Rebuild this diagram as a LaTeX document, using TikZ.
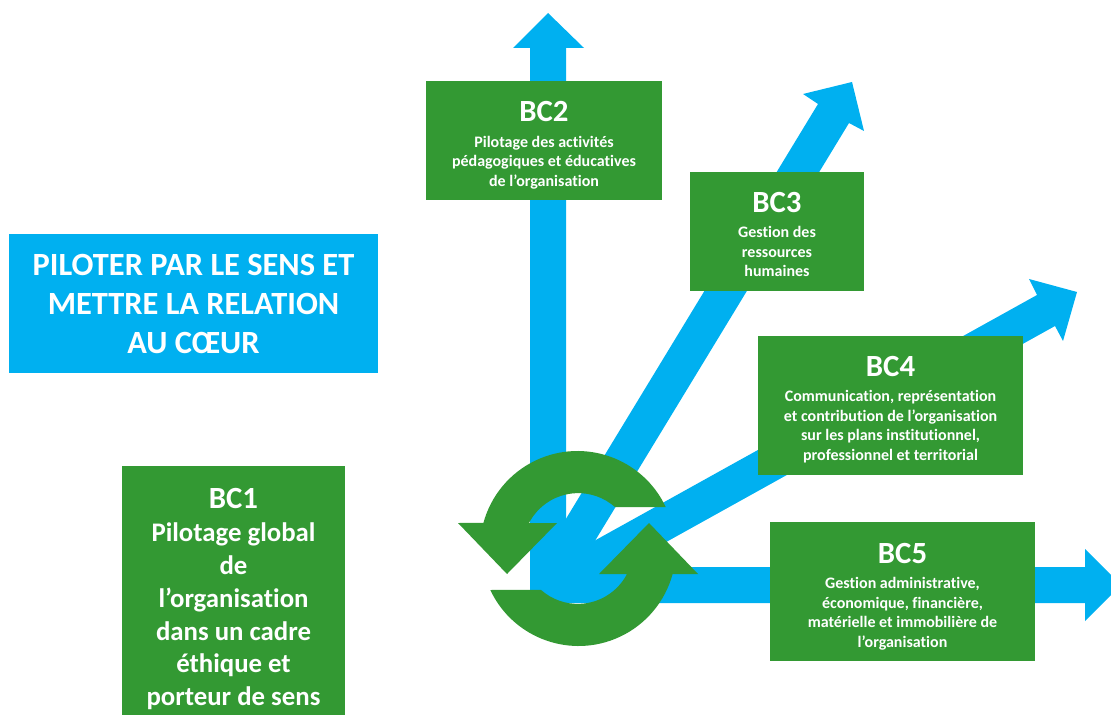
\documentclass[tikz,border=0pt]{standalone}
\usepackage{fontspec}
\setmainfont{Carlito}[Ligatures=NoCommon]
\definecolor{bcblue}{HTML}{00B0F0}
\definecolor{bcgreen}{HTML}{339933}
\tikzset{
  bcbox/.style={fill=bcgreen, text=white, font=\bfseries\fontsize{8}{9.75}\selectfont, align=center, inner sep=0pt},
  bcarrow/.style={fill=bcblue},
  bccycle/.style={fill=bcgreen}
}
\newcommand{\bctitle}[3]{{\fontsize{15.4}{18}\selectfont\rule{0pt}{#1}#3}\\[#2]}
\begin{document}
\begin{tikzpicture}[x=0.5pt, y=-0.5pt]
\useasboundingbox (0,0) rectangle (1111,715);

\fill [bcarrow] (530,603) -- (530,48) -- (513,48) -- (548,13) -- (584,48) -- (566,48) -- (566,603) -- cycle;
\fill [bcarrow] (530,578) -- (818,104) -- (803,94) -- (852,82) -- (864,131) -- (849,123) -- (559,600) -- cycle;
\fill [bcarrow] (540,571) -- (1037,295) -- (1029,279) -- (1077,292) -- (1063,341) -- (1055,326) -- (560,601) -- cycle;
\fill [bcarrow] (530,567) -- (1085,567) -- (1085,549) -- (1111,575) -- (1111,595) -- (1085,621) -- (1085,603) -- (530,603) -- cycle;

\foreach \a in {0,180} {
  \fill [bccycle, rotate around={\a:(578,548.5)}] (665.7,507) arc [start angle=-25.2, end angle=-164.8, radius=97.5]
    -- (458,523) -- (507,574) -- (557,523) -- (529,523)
    arc [start angle=-152.5, end angle=-48.3, radius=55.5] -- cycle;
}

\node [bcbox, minimum width=118pt, minimum height=59.5pt] (bc2) at (544,140.5)
  {\bctitle{15pt}{3pt}{BC2}Pilotage des activités\\pédagogiques et éducatives\\de l’organisation};
\node [bcbox, minimum width=87pt, minimum height=59.5pt] (bc3) at (777,231.5)
  {\bctitle{13pt}{3pt}{BC3}Gestion des\\ressources\\humaines};
\node [bcbox, minimum width=132.5pt, minimum height=69.5pt] (bc4) at (890.5,405.5)
  {\bctitle{14pt}{3pt}{BC4}Communication, représentation\\et contribution de l’organisation\\sur les plans institutionnel,\\professionnel et territorial};
\node [bcbox, minimum width=132.5pt, minimum height=69.5pt] (bc5) at (902.5,591.5)
  {\bctitle{15pt}{3pt}{BC5}Gestion administrative,\\économique, financière,\\matérielle et immobilière de\\l’organisation};
\node [bcbox, font=\bfseries\fontsize{13.4}{16.4}\selectfont, minimum width=111.5pt, minimum height=124.5pt] (bc1) at (233.5,590.5)
  {\bctitle{18.5pt}{0.5pt}{BC1}Pilotage global\\de\\l’organisation\\dans un cadre\\éthique et\\porteur de sens};
\node [fill=bcblue, text=white, font=\bfseries\fontsize{16.2}{19.5}\selectfont, align=center, inner sep=0pt, minimum width=184.5pt, minimum height=69.5pt] (title) at (193.5,303.5)
  {PILOTER PAR LE SENS ET\\METTRE LA RELATION\\AU CŒUR};
\end{tikzpicture}
\end{document}
